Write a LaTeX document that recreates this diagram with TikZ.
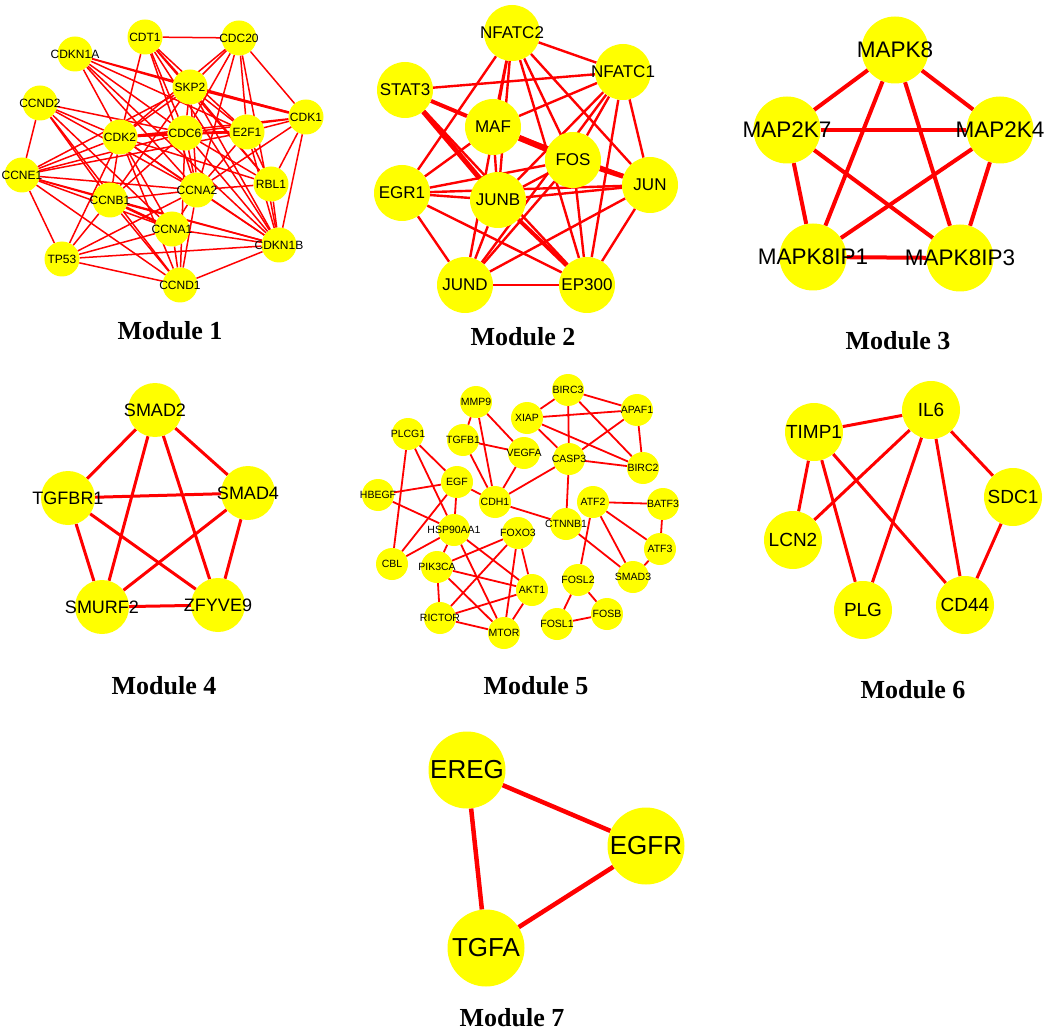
\documentclass[tikz,border=0pt]{standalone}
\usepackage{fontspec}
\setmainfont{Liberation Serif}
\newfontfamily\arialf{Liberation Sans}
\definecolor{ny}{HTML}{FFFF00}
\definecolor{er}{HTML}{FF0000}
\newcommand\ct[1]{\makebox[0pt]{#1}}
\pgfdeclarelayer{bg}
\pgfsetlayers{bg,main}
\tikzset{
  gn/.style={circle, fill=ny, inner sep=0pt},
  ga/.style={gn, minimum size=35pt, font=\arialf\fontsize{12}{13}\selectfont},
  gb/.style={gn, minimum size=56pt, font=\arialf\fontsize{17}{18}\selectfont},
  gc/.style={gn, minimum size=67pt, font=\arialf\fontsize{22.5}{24}\selectfont},
  gd/.style={gn, minimum size=54pt, font=\arialf\fontsize{18}{20}\selectfont},
  ge/.style={gn, minimum size=32pt, font=\arialf\fontsize{10.5}{11}\selectfont},
  gf/.style={gn, minimum size=58pt, font=\arialf\fontsize{19}{20}\selectfont},
  gg/.style={gn, minimum size=77pt, font=\arialf\fontsize{26}{28}\selectfont},
  ea/.style={draw=er, line width=1.5pt},
  eb/.style={draw=er, line width=2.4pt},
  ec/.style={draw=er, line width=4pt},
  ed/.style={draw=er, line width=3pt},
  ee/.style={draw=er, line width=1.8pt},
  ef/.style={draw=er, line width=3pt},
  eg/.style={draw=er, line width=4.5pt},
  modlab/.style={font=\bfseries\fontsize{26}{28}\selectfont, inner sep=0pt},
}
\begin{document}
\begin{tikzpicture}[x=1pt,y=-1pt]
\useasboundingbox (0,0) rectangle (1052,1032);
% ---------- Module 1
\node[ga] (CDT1) at (145,37) {\ct{CDT1}};
\node[ga] (CDC20) at (239,38) {\ct{CDC20}};
\node[ga] (CDKN1A) at (75,54) {\ct{CDKN1A}};
\node[ga] (SKP2) at (190,87) {\ct{SKP2}};
\node[ga] (CCND2) at (40,103) {\ct{CCND2}};
\node[ga] (CDK1) at (306,117) {\ct{CDK1}};
\node[ga] (CDK2) at (120,137) {\ct{CDK2}};
\node[ga] (CDC6) at (185,133) {\ct{CDC6}};
\node[ga] (E2F1) at (247,132) {\ct{E2F1}};
\node[ga] (CCNE1) at (22,175) {\ct{CCNE1}};
\node[ga] (CCNA2) at (197,190) {\ct{CCNA2}};
\node[ga] (RBL1) at (271,184) {\ct{RBL1}};
\node[ga] (CCNB1) at (110,200) {\ct{CCNB1}};
\node[ga] (CCNA1) at (172,229) {\ct{CCNA1}};
\node[ga] (CDKN1B) at (279,245) {\ct{CDKN1B}};
\node[ga] (TP53) at (62,259) {\ct{TP53}};
\node[ga] (CCND1) at (180,285) {\ct{CCND1}};
\begin{pgfonlayer}{bg}
\foreach \a/\b in {CDT1/CDC20,CDT1/SKP2,CDT1/CDK2,CDT1/CDC6,CDT1/CCNA2,CDT1/E2F1,CDT1/CDKN1B,CDT1/RBL1,
 CDC20/SKP2,CDC20/CDK2,CDC20/CDC6,CDC20/CCNA2,CDC20/E2F1,CDC20/CDK1,CDC20/CDKN1B,
 CDKN1A/SKP2,CDKN1A/CDK1,CDKN1A/CDK2,CDKN1A/CDC6,CDKN1A/E2F1,CDKN1A/CCNA2,CDKN1A/CDKN1B,
 CCND2/CCNE1,CCND2/CDK2,CCND2/CDC6,CCND2/CCNA2,CCND2/CCNB1,CCND2/CCNA1,CCND2/CCND1,
 SKP2/CDK2,SKP2/CDC6,SKP2/CCNA2,SKP2/E2F1,SKP2/RBL1,SKP2/CDKN1B,SKP2/CCNB1,SKP2/CCNE1,
 CDK1/E2F1,CDK1/CDC6,CDK1/CDK2,CDK1/RBL1,CDK1/CDKN1B,CDK1/CCNA2,
 CDK2/E2F1,CDK2/CCNE1,CDK2/CCNA2,CDK2/CCNB1,CDK2/CCNA1,CDK2/CCND1,CDK2/TP53,CDK2/CDKN1B,CDK2/RBL1,
 CDC6/CCNA2,CDC6/CCNB1,CDC6/CCNE1,CDC6/RBL1,CDC6/CDKN1B,CDC6/CCND1,
 E2F1/CCNA2,E2F1/RBL1,E2F1/CDKN1B,E2F1/CCNE1,
 CCNE1/CCNB1,CCNE1/CCNA2,CCNE1/CCNA1,CCNE1/CDKN1B,CCNE1/TP53,CCNE1/CCND1,
 CCNA2/RBL1,CCNA2/CDKN1B,CCNA2/CCNB1,CCNA2/CCNA1,CCNA2/TP53,CCNA2/CCND1,
 RBL1/CDKN1B,CCNB1/CCND1,CCNB1/CDKN1B,CCNB1/TP53,
 CCNA1/CDKN1B,CCNA1/CCND1,CCNA1/TP53,TP53/CCND1,TP53/CDKN1B,CDKN1B/CCND1}
 \draw[ea] (\a) -- (\b);
\foreach \a/\b in {CDK2/CDC6,CDC6/E2F1,SKP2/CDK1,CCNB1/CCNA1}
 \draw[ea, line width=2.6pt] (\a) -- (\b);
\end{pgfonlayer}
\node[modlab] (lab1) at (170,331) {Module 1};
% ---------- Module 2
\node[gb] (NFATC2) at (512,33) {\ct{NFATC2}};
\node[gb] (NFATC1) at (623,72) {\ct{NFATC1}};
\node[gb] (STAT3) at (405,90) {\ct{STAT3}};
\node[gb] (MAF) at (493,127) {\ct{MAF}};
\node[gb] (FOS) at (573,160) {\ct{FOS}};
\node[gb] (JUN) at (650,185) {\ct{JUN}};
\node[gb] (EGR1) at (402,193) {\ct{EGR1}};
\node[gb] (JUNB) at (498,200) {\ct{JUNB}};
\node[gb] (JUND) at (465,285) {\ct{JUND}};
\node[gb] (EP300) at (587,285) {\ct{EP300}};
\begin{pgfonlayer}{bg}
\foreach \a/\b in {NFATC2/NFATC1,NFATC2/EGR1,NFATC2/MAF,NFATC2/JUNB,NFATC2/FOS,NFATC2/JUN,NFATC2/EP300,NFATC2/JUND,
 NFATC1/STAT3,NFATC1/MAF,NFATC1/JUNB,NFATC1/FOS,NFATC1/JUN,NFATC1/EP300,NFATC1/JUND,
 STAT3/EP300,MAF/EGR1,MAF/JUNB,MAF/JUN,
 FOS/EGR1,FOS/JUNB,FOS/JUND,FOS/EP300,
 JUN/EGR1,JUN/JUNB,JUN/JUND,JUN/EP300,
 EGR1/JUNB,EGR1/JUND,EGR1/EP300,JUNB/JUND,JUND/EP300}
 \draw[eb] (\a) -- (\b);
\draw[eb, line width=4pt] (STAT3) -- (MAF);
\draw[eb, line width=5pt] (STAT3) -- (JUNB);
\draw[eb, line width=6pt] (MAF) -- (FOS);
\draw[eb, line width=5pt] (FOS) -- (JUN);
\draw[eb, line width=4pt] (JUNB) -- (EP300);
\end{pgfonlayer}
\node[modlab] (lab2) at (523,337) {Module 2};
% ---------- Module 3
\node[gc] (MAPK8) at (895,50) {\ct{MAPK8}};
\node[gc] (MAP2K7) at (787,130) {\ct{MAP2K7}};
\node[gc] (MAP2K4) at (1000,130) {\ct{MAP2K4}};
\node[gc] (MAPK8IP1) at (813,257) {\ct{MAPK8IP1}};
\node[gc] (MAPK8IP3) at (960,258) {\ct{MAPK8IP3}};
\begin{pgfonlayer}{bg}
\foreach \a/\b in {MAPK8/MAP2K7,MAPK8/MAP2K4,MAPK8/MAPK8IP1,MAPK8/MAPK8IP3,MAP2K7/MAP2K4,
 MAP2K7/MAPK8IP1,MAP2K7/MAPK8IP3,MAP2K4/MAPK8IP1,MAP2K4/MAPK8IP3,MAPK8IP1/MAPK8IP3}
 \draw[ec] (\a) -- (\b);
\end{pgfonlayer}
\node[modlab] (lab3) at (898,341) {Module 3};
% ---------- Module 4
\node[gd] (SMAD2) at (155,410) {\ct{SMAD2}};
\node[gd] (TGFBR1) at (68,498) {\ct{TGFBR1}};
\node[gd] (SMAD4) at (248,493) {\ct{SMAD4}};
\node[gd] (SMURF2) at (102,607) {\ct{SMURF2}};
\node[gd] (ZFYVE9) at (218,605) {\ct{ZFYVE9}};
\begin{pgfonlayer}{bg}
\foreach \a/\b in {SMAD2/TGFBR1,SMAD2/SMAD4,SMAD2/SMURF2,SMAD2/ZFYVE9,TGFBR1/SMAD4,
 TGFBR1/SMURF2,TGFBR1/ZFYVE9,SMAD4/SMURF2,SMAD4/ZFYVE9,SMURF2/ZFYVE9}
 \draw[ed] (\a) -- (\b);
\end{pgfonlayer}
\node[modlab] (lab4) at (164,686) {Module 4};
% ---------- Module 5
\node[ge] (MMP9) at (476,402) {\ct{MMP9}};
\node[ge] (BIRC3) at (568,390) {\ct{BIRC3}};
\node[ge] (XIAP) at (527,418) {\ct{XIAP}};
\node[ge] (APAF1) at (637,410) {\ct{APAF1}};
\node[ge] (PLCG1) at (408,434) {\ct{PLCG1}};
\node[ge] (TGFB1) at (463,440) {\ct{TGFB1}};
\node[ge] (VEGFA) at (524,453) {\ct{VEGFA}};
\node[ge] (CASP3) at (569,459) {\ct{CASP3}};
\node[ge] (BIRC2) at (643,468) {\ct{BIRC2}};
\node[ge] (EGF) at (457,482) {\ct{EGF}};
\node[ge] (HBEGF) at (378,495) {\ct{HBEGF}};
\node[ge] (CDH1) at (495,502) {\ct{CDH1}};
\node[ge] (ATF2) at (593,502) {\ct{ATF2}};
\node[ge] (BATF3) at (663,504) {\ct{BATF3}};
\node[ge] (CTNNB1) at (566,524) {\ct{CTNNB1}};
\node[ge] (HSP90AA1) at (454,530) {\ct{HSP90AA1}};
\node[ge] (FOXO3) at (518,533) {\ct{FOXO3}};
\node[ge] (ATF3) at (660,549) {\ct{ATF3}};
\node[ge] (CBL) at (392,564) {\ct{CBL}};
\node[ge] (PIK3CA) at (437,567) {\ct{PIK3CA}};
\node[ge] (SMAD3) at (633,577) {\ct{SMAD3}};
\node[ge] (FOSL2) at (578,580) {\ct{FOSL2}};
\node[ge] (AKT1) at (532,590) {\ct{AKT1}};
\node[ge] (FOSB) at (607,614) {\ct{FOSB}};
\node[ge] (FOSL1) at (557,624) {\ct{FOSL1}};
\node[ge] (RICTOR) at (440,618) {\ct{RICTOR}};
\node[ge] (MTOR) at (504,633) {\ct{MTOR}};
\begin{pgfonlayer}{bg}
\foreach \a/\b in {MMP9/TGFB1,MMP9/CDH1,MMP9/VEGFA,TGFB1/VEGFA,TGFB1/CDH1,VEGFA/CDH1,
 BIRC3/XIAP,BIRC3/APAF1,BIRC3/CASP3,BIRC3/BIRC2,XIAP/APAF1,XIAP/CASP3,XIAP/BIRC2,
 APAF1/BIRC2,APAF1/CASP3,CASP3/BIRC2,CASP3/CDH1,CASP3/CTNNB1,
 PLCG1/EGF,PLCG1/HSP90AA1,PLCG1/CBL,HBEGF/EGF,HBEGF/HSP90AA1,
 EGF/CDH1,EGF/HSP90AA1,EGF/CBL,CDH1/CTNNB1,CBL/HSP90AA1,
 HSP90AA1/PIK3CA,HSP90AA1/AKT1,HSP90AA1/MTOR,
 FOXO3/PIK3CA,FOXO3/RICTOR,FOXO3/MTOR,FOXO3/AKT1,
 PIK3CA/AKT1,PIK3CA/RICTOR,PIK3CA/MTOR,AKT1/RICTOR,AKT1/MTOR,RICTOR/MTOR,
 ATF2/BATF3,ATF2/ATF3,ATF2/SMAD3,ATF2/FOSL2,BATF3/ATF3,ATF3/SMAD3,CTNNB1/SMAD3,
 FOSL2/FOSL1,FOSL2/FOSB,FOSL1/FOSB}
 \draw[ee] (\a) -- (\b);
\end{pgfonlayer}
\node[modlab] (lab5) at (536,686) {Module 5};
% ---------- Module 6
\node[gf] (TIMP1) at (814,432) {\ct{TIMP1}};
\node[gf] (IL6) at (931,410) {\ct{IL6}};
\node[gf] (SDC1) at (1013,497) {\ct{SDC1}};
\node[gf] (LCN2) at (793,540) {\ct{LCN2}};
\node[gf] (PLG) at (863,610) {\ct{PLG}};
\node[gf] (CD44) at (965,605) {\ct{CD44}};
\begin{pgfonlayer}{bg}
\foreach \a/\b in {TIMP1/IL6,TIMP1/LCN2,TIMP1/PLG,TIMP1/CD44,IL6/LCN2,IL6/PLG,IL6/CD44,IL6/SDC1,SDC1/CD44}
 \draw[ef] (\a) -- (\b);
\end{pgfonlayer}
\node[modlab] (lab6) at (913,690) {Module 6};
% ---------- Module 7
\node[gg] (EREG) at (467,770) {\ct{EREG}};
\node[gg] (EGFR) at (646,846) {\ct{EGFR}};
\node[gg] (TGFA) at (486,948) {\ct{TGFA}};
\begin{pgfonlayer}{bg}
\foreach \a/\b in {EREG/EGFR,EREG/TGFA,EGFR/TGFA}
 \draw[eg] (\a) -- (\b);
\end{pgfonlayer}
\node[modlab] (lab7) at (512,1018) {Module 7};
\end{tikzpicture}
\end{document}
